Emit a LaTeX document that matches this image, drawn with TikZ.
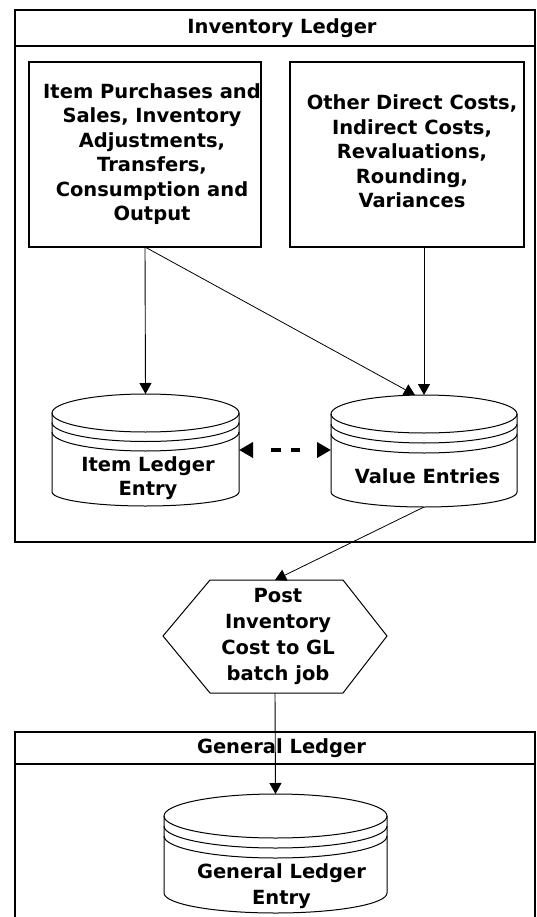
\documentclass[tikz,border=0pt]{standalone}
\usepackage{fontspec}
\setmainfont{DejaVu Sans}
\usetikzlibrary{arrows.meta}
\newcommand{\dbcyl}[7]{% cx, rx, yc, ryt, ysb, ryb, gap
  \draw[shp] (#1,-#3) ellipse [x radius=#2, y radius=#4];
  \draw[shp] (#1-#2,-#3-#7) arc [start angle=180, end angle=360, x radius=#2, y radius=#4];
  \draw[shp] (#1-#2,-#3-2*#7) arc [start angle=180, end angle=360, x radius=#2, y radius=#4];
  \draw[shp] (#1-#2,-#3) -- (#1-#2,-#5) arc [start angle=180, end angle=360, x radius=#2, y radius=#6] -- (#1+#2,-#3);
}
\begin{document}
\begin{tikzpicture}[x=1pt,y=1pt,
  lbl/.style={font=\bfseries\fontsize{19.5}{24.5}\selectfont, align=center, inner sep=0pt},
  frame/.style={draw, line width=1.3pt, inner sep=0pt, outer sep=0pt},
  shp/.style={draw, line width=1pt},
  ghost/.style={inner sep=0pt, outer sep=0pt},
  arr/.style={draw, line width=0.9pt, -{Triangle[length=11pt,width=12pt]}},
  dbl/.style={line width=4pt, {Triangle[length=14pt,width=15pt]}-{Triangle[length=14pt,width=15pt]},
    dash pattern=on 0pt off 19pt on 10pt off 10pt on 9pt off 40pt}
]
\useasboundingbox (0,0) rectangle (536,-917);
\fill[white] (0,0) rectangle (536,-917);

% Inventory Ledger frame
\node[frame, minimum width=520pt, minimum height=532pt, anchor=north west] (inv) at (15,-10) {};
\draw[line width=1.3pt] ([yshift=-36pt]inv.north west) -- ([yshift=-36pt]inv.north east);
\node[lbl] (invtitle) at (282,-27.9) {Inventory Ledger};

% top boxes
\node[frame, minimum width=232pt, minimum height=185pt, anchor=north west] (lbox) at (29,-62) {};
\node[lbl] (ltext) at (152,-154.2) {Item Purchases and\\Sales, Inventory\\Adjustments,\\Transfers,\\Consumption and\\Output};
\node[frame, minimum width=234pt, minimum height=185pt, anchor=north west] (rbox) at (290,-62) {};
\node[lbl] (rtext) at (412,-151.6) {Other Direct Costs,\\Indirect Costs,\\Revaluations,\\Rounding,\\Variances};

% cylinders
\dbcyl{145.5}{93.5}{413}{19}{492}{14}{9.5}
\node[ghost, minimum width=187pt, minimum height=112pt] (ile) at (145.5,-450) {};
\node[lbl, font=\bfseries\fontsize{19.5}{24}\selectfont] (iletext) at (148,-478.4) {Item Ledger\\Entry};

\dbcyl{424}{93}{414}{19}{492}{15}{10}
\node[ghost, minimum width=186pt, minimum height=112pt] (ve) at (424,-451) {};
\node[lbl] (vetext) at (427.5,-476.6) {Value Entries};

% hexagon
\draw[shp] (210,-580) -- (343,-580) -- (387,-636) -- (343,-693) -- (210,-693) -- (163,-636) -- cycle;
\node[ghost, minimum width=224pt, minimum height=113pt] (hex) at (275,-636.5) {};
\node[lbl, font=\bfseries\fontsize{19.5}{26}\selectfont] (hextext) at (278,-636) {Post\\Inventory\\Cost to GL\\batch job};

% General Ledger frame
\node[frame, minimum width=520pt, minimum height=220pt, anchor=north west] (gen) at (15,-732) {};
\draw[line width=1.3pt] ([yshift=-32pt]gen.north west) -- ([yshift=-32pt]gen.north east);
\node[lbl] (gentitle) at (281.5,-747.9) {General Ledger};

\dbcyl{275.5}{111.5}{816}{22}{893}{20}{10}
\node[ghost, minimum width=223pt, minimum height=119pt] (gl) at (275.5,-853.5) {};
\node[lbl, font=\bfseries\fontsize{19.5}{26}\selectfont] (gltext) at (281.5,-886.4) {General Ledger\\Entry};

% connectors
\coordinate (vein) at (415,-395);
\draw[arr] (lbox.south) -- (ile.north);
\draw[arr, line width=0.8pt] (lbox.south) -- (vein);
\draw[arr] (rbox.south -| ve.north) -- (ve.north);
\draw[dbl] (ile.east) -- (ile.east -| ve.west);
\draw[arr, line width=0.8pt] (ve.south) -- (hex.north);
\draw[arr] (hex.south) -- (gl.north);
\end{tikzpicture}
\end{document}
